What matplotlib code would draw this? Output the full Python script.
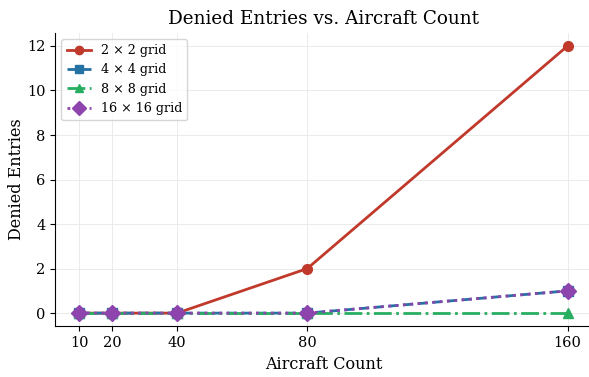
import matplotlib
matplotlib.use("Agg")
import matplotlib.pyplot as plt

aircraft = [10, 20, 40, 80, 160]
grid_2 = [0, 0, 0, 2, 12]
grid_4 = [0, 0, 0, 0, 1]
grid_8 = [0, 0, 0, 0, 0]
grid_16 = [0, 0, 0, 0, 1]
labels = ['2 × 2 grid', '4 × 4 grid', '8 × 8 grid', '16 × 16 grid']

plt.rcParams['font.family'] = ['DejaVu Serif']
fig, ax = plt.subplots(figsize=(5.89, 3.77), dpi=100)

ax.plot(aircraft, grid_2, color='#c0392b', marker='o', linestyle='-', linewidth=2, markersize=7, label=labels[0])
ax.plot(aircraft, grid_4, color='#2471a3', marker='s', linestyle='--', linewidth=2, markersize=7, label=labels[1])
ax.plot(aircraft, grid_8, color='#27ae60', marker='^', linestyle='-.', linewidth=2, markersize=7, label=labels[2])
ax.plot(aircraft, grid_16, color='#8e44ad', marker='D', linestyle=':', linewidth=2, markersize=8, label=labels[3])

ax.set_xticks(aircraft)
ax.tick_params(labelsize=10.5)
ax.set_xlabel('Aircraft Count', fontsize=11.5)
ax.set_ylabel('Denied Entries', fontsize=11.5, labelpad=1)
ax.set_title('Denied Entries vs. Aircraft Count', fontsize=13.2)
ax.grid(True, color='#e8e8e8', linewidth=0.6)
ax.spines['top'].set_visible(False)
ax.spines['right'].set_visible(False)
ax.legend(loc='upper left', fontsize=9.2, labelspacing=0.5, markerscale=0.85, handlelength=1.9)
fig.subplots_adjust(left=0.0934, right=1.005, top=0.9135, bottom=0.134)
fig.savefig('out.png', dpi=100)
